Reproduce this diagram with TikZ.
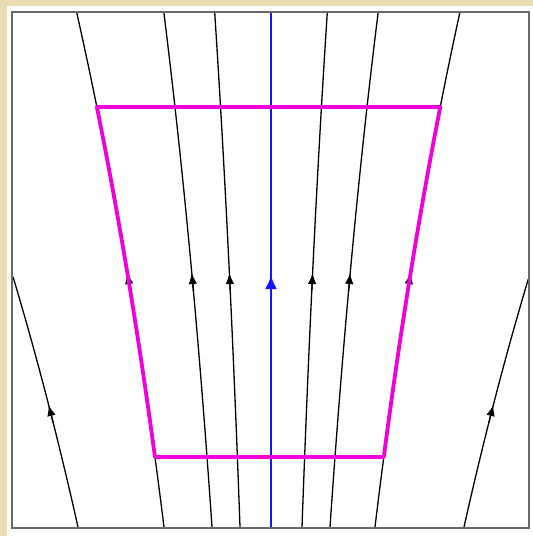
\documentclass[tikz,border=0pt]{standalone}
\usetikzlibrary{arrows.meta}
\definecolor{beige}{RGB}{234,220,178}
\definecolor{framegray}{RGB}{105,105,105}
\definecolor{flowblue}{RGB}{20,20,255}
\definecolor{mag}{RGB}{240,0,220}
\tikzset{
  stream/.style={black, line width=1.3pt},
  axisline/.style={flowblue, line width=2.8pt},
  region/.style={mag, line width=3.8pt, line join=round},
  tipblack/.style={-{Latex[length=11pt,width=8.5pt]}, black, line width=1.3pt},
  tipblue/.style={-{Latex[length=14pt,width=12pt]}, flowblue, line width=2.8pt},
}
\begin{document}
\begin{tikzpicture}[x=1pt,y=-1pt]
\fill[beige] (0,0) rectangle (533,536);
\fill[white] (7,6) rectangle (533,536);
\useasboundingbox (0,0) rectangle (533,536);
% inner streamlines
\foreach \u in {-107,-59,-31,31,59,104} {
  \draw[stream] plot[domain=0:515, samples=40] ({271+\u*exp(0.00116*\x)},{527-\x});
  \draw[tipblack] ({271+\u*exp(0.00116*236)},{527-236}) -- ({271+\u*exp(0.00116*254)},{527-254});
}
% outer streamlines
\foreach \u/\hm in {-193/250,193/248} {
  \draw[stream] plot[domain=0:\hm, samples=30] ({271+\u*exp(0.00116*\x)},{527-\x});
  \draw[tipblack] ({271+\u*exp(0.00116*104)},{527-104}) -- ({271+\u*exp(0.00116*122)},{527-122});
}
% central axis
\draw[axisline] (271,12) -- (271,527);
\draw[tipblue] (271,298) -- (271,275);
% region
\draw[region] plot[domain=70:420, samples=30] ({271-107*exp(0.00116*\x)},{527-\x})
  -- plot[domain=420:70, samples=30] ({271+104*exp(0.00116*\x)},{527-\x}) -- cycle;
% frame
\draw[framegray, line width=2pt] (12,12) rectangle (529,528);
\end{tikzpicture}
\end{document}
